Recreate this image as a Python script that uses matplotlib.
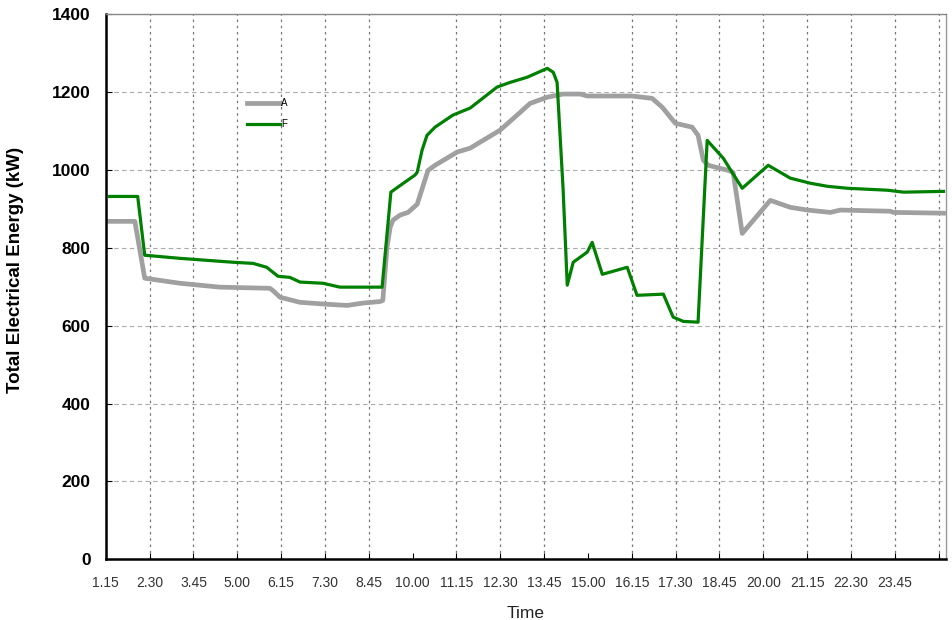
import numpy as np
import matplotlib
matplotlib.use('Agg')
import matplotlib.pyplot as plt

plt.rcParams['font.family'] = ['Liberation Sans', 'DejaVu Sans']

# time in hours (decimal), values in kW
a_time = [1.36, 2.08, 2.36, 3.36, 4.50, 5.93, 6.02, 6.22, 6.79, 7.56, 8.13, 8.58, 9.07, 9.15,
          9.27, 9.36, 9.44, 9.64, 9.87, 10.13, 10.44, 10.64, 11.27, 11.64, 12.49, 12.98, 13.35,
          13.84, 14.29, 14.78, 14.98, 16.25, 16.83, 17.12, 17.49, 17.97, 18.14, 18.29, 18.43,
          19.00, 19.14, 19.40, 20.20, 20.77, 21.26, 21.91, 22.20, 23.62, 23.71, 25.14]
a_vals = [868, 868, 722, 709, 699, 696, 690, 673, 660, 655, 652, 658, 662, 665,
          802, 853, 871, 884, 891, 912, 999, 1012, 1046, 1056, 1102, 1141, 1171,
          1187, 1195, 1195, 1190, 1190, 1184, 1161, 1120, 1110, 1089, 1025, 1012,
          999, 994, 837, 922, 904, 897, 891, 897, 894, 891, 889]

f_time = [1.36, 2.16, 2.36, 3.36, 4.87, 5.45, 5.84, 6.16, 6.50, 6.79, 7.44, 7.93, 9.13,
          9.38, 9.58, 10.07, 10.13, 10.27, 10.41, 10.64, 11.15, 11.64, 12.41, 12.78, 13.26,
          13.84, 14.01, 14.12, 14.29, 14.41, 14.58, 14.78, 14.98, 15.12, 15.41, 16.12, 16.40,
          17.15, 17.43, 17.72, 18.14, 18.40, 18.86, 19.11, 19.40, 20.14, 20.77, 21.34, 21.83,
          22.40, 23.54, 24.00, 25.14]
f_vals = [932, 932, 781, 773, 763, 760, 750, 727, 724, 712, 709, 699, 699,
          943, 956, 987, 994, 1051, 1089, 1110, 1141, 1159, 1213, 1225, 1238,
          1261, 1251, 1225, 953, 704, 763, 776, 789, 814, 732, 750, 678,
          681, 622, 611, 609, 1076, 1030, 994, 953, 1012, 979, 966, 958,
          953, 948, 943, 945]

tick_pos = [1.25 * k for k in range(1, 21)]
tick_labels = ['1.15', '2.30', '3.45', '5.00', '6.15', '7.30', '8.45', '10.00', '11.15', '12.30',
               '13.45', '15.00', '16.15', '17.30', '18.45', '20.00', '21.15', '22.30', '23.45', '']
no_grid = [10.0, 15.0]

fig = plt.figure(figsize=(9.53, 6.2), dpi=100)
ax = fig.add_axes([0.111, 0.098, 0.882, 0.879])

for y in range(200, 1400, 200):
    ax.axhline(y, color='#aaaaaa', lw=0.8, ls=(0, (4, 3)), zorder=0)
for x in tick_pos:
    if x in no_grid:
        continue
    ax.axvline(x, color='#777777', lw=0.9, ls=(0, (2, 3)), zorder=0)

ax.plot(a_time, a_vals, color='#a0a0a0', lw=3.4, label='A')
ax.plot(f_time, f_vals, color='#008000', lw=2.3, label='F')

ax.set_xlim(1.25, 25.22)
ax.set_ylim(0, 1400)
ax.set_xticks(tick_pos)
ax.set_xticklabels(tick_labels, fontsize=10, color='#333333')
ax.set_yticks(range(0, 1401, 200))
ax.set_yticklabels([str(v) for v in range(0, 1401, 200)], fontsize=12.5, fontweight='bold')
ax.tick_params(axis='x', direction='in', length=4, pad=12)
ax.tick_params(axis='y', direction='in', length=4, pad=11)

ax.spines['left'].set_linewidth(1.8)
ax.spines['bottom'].set_linewidth(1.8)
ax.spines['top'].set_color('#888888')
ax.spines['top'].set_linestyle((0, (1, 1)))
ax.spines['top'].set_linewidth(1)
ax.spines['right'].set_color('#999999')
ax.spines['right'].set_linewidth(1)

ax.set_xlabel('Time', fontsize=12.5, color='#222222')
ax.xaxis.set_label_coords(0.5, -0.085)
ax.set_ylabel('Total Electrical Energy (kW)', fontsize=13.5, fontweight='bold')
ax.yaxis.set_label_coords(-0.097, 0.53)

leg = ax.legend(loc='upper left', bbox_to_anchor=(0.158, 0.862), frameon=False, fontsize=7,
                handlelength=3.4, handletextpad=0.1, labelspacing=1.1)

fig.savefig('out.png', dpi=100)
